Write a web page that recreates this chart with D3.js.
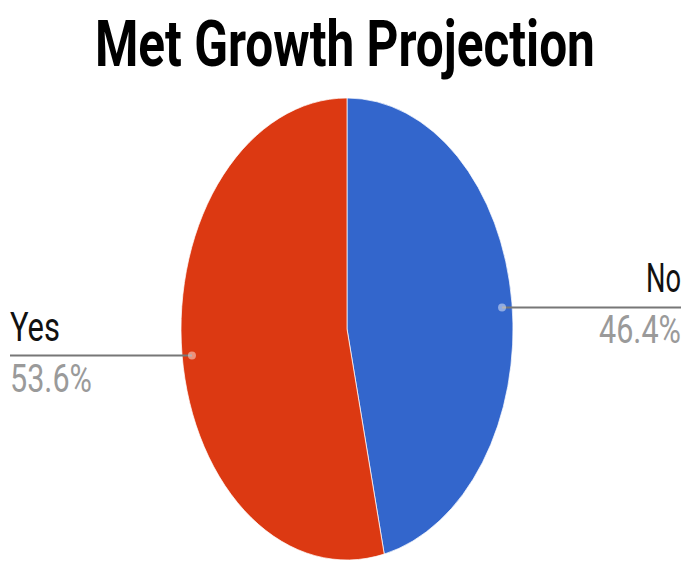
<!DOCTYPE html>
<html><head><meta charset="utf-8">
<script src="https://cdn.jsdelivr.net/npm/d3@7"></script>
<style>html,body{margin:0;padding:0;background:#fff;}svg{display:block;}</style>
</head><body>
<svg id="chart" width="686" height="562"></svg>
<script>
const categories = ["No", "Yes"];
const values = [46.4, 53.6];
const percentLabels = ["46.4%", "53.6%"];
const colors = ["#3366cc", "#dc3912"];
const title = "Met Growth Projection";

const svg = d3.select("#chart");
const cx = 347, cy = 329, rx = 166, ry = 231;
const FONT = "Roboto, 'Liberation Sans', sans-serif";

// Draw text condensed to a target width using a horizontal scale transform
function condensed(x, y, str, size, weight, fill, width, anchor) {
  const t = svg.append("text").attr("x", 0).attr("y", 0)
    .attr("font-family", FONT).attr("font-size", size).attr("font-weight", weight)
    .attr("fill", fill).text(str);
  const w = t.node().getComputedTextLength();
  const s = width / w;
  const left = anchor === "middle" ? x - width / 2 : anchor === "end" ? x - width : x;
  t.attr("transform", `translate(${left},${y}) scale(${s},1)`);
  return t;
}

condensed(345, 66, title, 64, "bold", "#000", 500, "middle");

const pie = d3.pie().sort(null).value(d => d)(values);
const arc = d3.arc().innerRadius(0).outerRadius(rx);
const g = svg.append("g").attr("transform", `translate(${cx},${cy}) scale(1,${ry/rx})`);
g.selectAll("path").data(pie).join("path")
  .attr("d", arc).attr("fill", (d,i) => colors[i])
  .attr("stroke", "#fff").attr("stroke-width", 0.6);

const dotArc = d3.arc().innerRadius(rx*0.94).outerRadius(rx*0.94);
pie.forEach((d, i) => {
  const c = dotArc.centroid(d);
  const px = cx + c[0], py = cy + c[1]*ry/rx;
  const right = px > cx;
  const lineY = right ? py + 3 : py + 2;
  const xEnd = right ? 681 : 10;
  svg.append("line").attr("x1", px).attr("y1", lineY).attr("x2", xEnd).attr("y2", lineY)
    .attr("stroke", "#777").attr("stroke-width", 2);
  svg.append("circle").attr("cx", px).attr("cy", lineY).attr("r", 4)
    .attr("fill", "#fff").attr("fill-opacity", 0.45);
  const anchor = right ? "end" : "start";
  condensed(xEnd, lineY - 15, categories[i], 40, "normal", "#111", right ? 35 : 50, anchor);
  condensed(xEnd, lineY + 36, percentLabels[i], 39, "normal", "#9a9a9a", 82, anchor);
});
</script>
</body></html>
